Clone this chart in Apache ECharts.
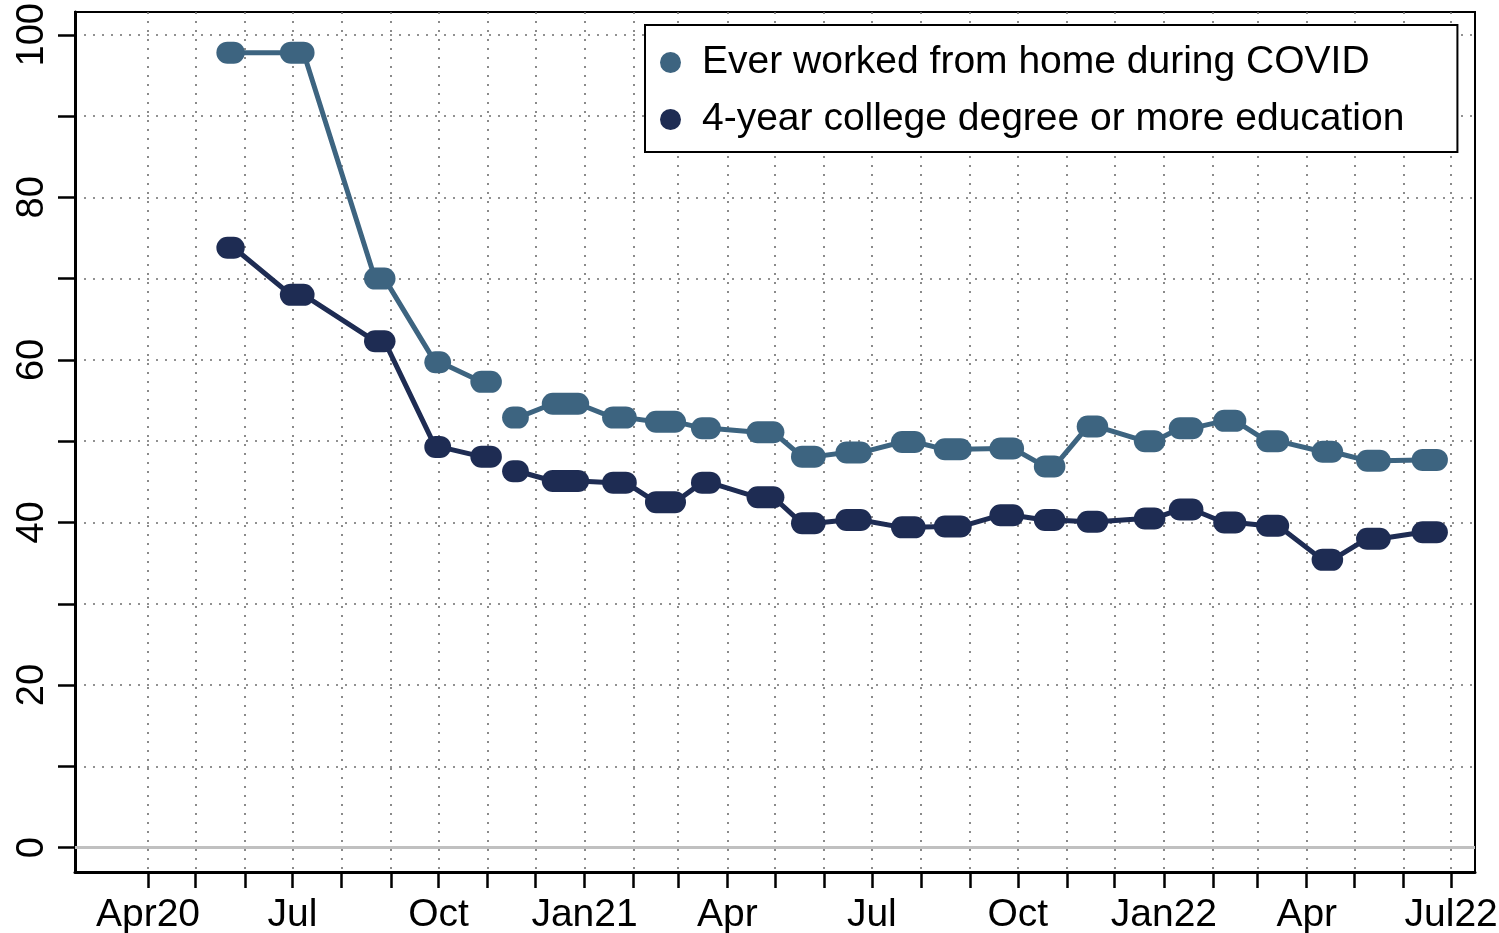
<!DOCTYPE html>
<html>
<head>
<meta charset="utf-8">
<title>Working from home</title>
<script src="https://cdn.jsdelivr.net/npm/echarts@6.0.0/dist/echarts.min.js"></script>
<style>
    html, body { margin: 0; padding: 0; background: #fff; }
    #chart { width: 1499px; height: 933px; }
</style>
</head>
<body>
<div id="chart"></div>
<script>
// survey waves: first and last day in the field
const waveStart = ['2020-05-21', '2020-06-30', '2020-08-22', '2020-09-29', '2020-10-28', '2020-11-17',
    '2020-12-12', '2021-01-19', '2021-02-15', '2021-03-16', '2021-04-20', '2021-05-18', '2021-06-15',
    '2021-07-20', '2021-08-16', '2021-09-20', '2021-10-18', '2021-11-14', '2021-12-20', '2022-01-11',
    '2022-02-08', '2022-03-07', '2022-04-11', '2022-05-09', '2022-06-13'];
const waveEnd = ['2020-05-25', '2020-07-08', '2020-08-28', '2020-10-02', '2020-11-03', '2020-11-20',
    '2020-12-28', '2021-01-27', '2021-02-27', '2021-03-21', '2021-04-30', '2021-05-26', '2021-06-24',
    '2021-07-28', '2021-08-26', '2021-09-28', '2021-10-24', '2021-11-20', '2021-12-26', '2022-01-19',
    '2022-02-15', '2022-03-14', '2022-04-17', '2022-05-17', '2022-06-22'];

const everWfh = [97.8, 97.8, 70.0, 59.7, 57.3, 52.9, 54.6, 52.9, 52.4, 51.6, 51.1, 48.1, 48.6,
    49.9, 49.0, 49.1, 46.9, 51.8, 50.0, 51.6, 52.5, 50.0, 48.7, 47.6, 47.7];
const collegeDegree = [73.8, 68.0, 62.3, 49.3, 48.1, 46.3, 45.1, 44.9, 42.5, 44.9, 43.1, 39.9, 40.3,
    39.4, 39.5, 40.9, 40.3, 40.1, 40.5, 41.6, 40.0, 39.6, 35.4, 38.0, 38.8];

const seriesNames = ['Ever worked from home during COVID', '4-year college degree or more education'];
const seriesColors = ['#3d6480', '#1e2c53'];
const breakAfter = 4; // no line between wave 5 and wave 6

const quarterTicks = ['2020-04-01', '2020-07-01', '2020-10-01', '2021-01-01', '2021-04-01',
    '2021-07-01', '2021-10-01', '2022-01-01', '2022-04-01', '2022-07-01'];
const quarterLabels = ['Apr20', 'Jul', 'Oct', 'Jan21', 'Apr', 'Jul', 'Oct', 'Jan22', 'Apr', 'Jul22'];
const yTicks = [0, 10, 20, 30, 40, 50, 60, 70, 80, 90, 100];
const yLabels = [0, 20, 40, 60, 80, 100];

const day = s => Date.parse(s);
const monthTicks = [];
for (let m = 0; m <= 27; m++) monthTicks.push(Date.UTC(2020, 3 + m, 1));
const quarterTs = quarterTicks.map(day);

const font = '"Liberation Sans", Arial, Helvetica, sans-serif';
const capsule = 22;
const dotted = { color: '#6e6e6e', width: 1.6, type: [2, 7] };

function capsuleData(values) {
    return values.map((v, i) => [day(waveStart[i]), day(waveEnd[i]), v]);
}

function connectorData(values) {
    const out = [];
    values.forEach((v, i) => {
        out.push([day(waveStart[i]), v], [day(waveEnd[i]), v]);
        if (i === breakAfter) out.push([day(waveEnd[i]) + 86400000, '-']);
    });
    return out;
}

function capsuleSeries(name, values, color) {
    return {
        name: name,
        type: 'custom',
        z: 4,
        data: capsuleData(values),
        encode: { x: [0, 1], y: 2 },
        renderItem: (params, api) => {
            const a = api.coord([api.value(0), api.value(2)]);
            const b = api.coord([api.value(1), api.value(2)]);
            return {
                type: 'rect',
                shape: { x: a[0] - capsule / 2, y: a[1] - capsule / 2, width: b[0] - a[0] + capsule, height: capsule, r: capsule / 2 },
                style: { fill: color }
            };
        }
    };
}

function connectorSeries(name, values, color) {
    return {
        name: name,
        type: 'line',
        z: 3,
        data: connectorData(values),
        showSymbol: false,
        symbol: 'none',
        connectNulls: false,
        lineStyle: { color: color, width: 5 }
    };
}

const chart = echarts.init(document.getElementById('chart'), null, { renderer: 'canvas' });
chart.setOption({
    animation: false,
    backgroundColor: '#fff',
    grid: {
        left: 75, right: 24, top: 12, bottom: 61,
        show: true, borderColor: '#000', borderWidth: 2,
        outerBoundsMode: 'none'
    },
    legend: {
        left: 645, top: 25, orient: 'vertical',
        padding: [18, 53, 13, 15],
        itemGap: 18, itemWidth: 21, itemHeight: 21,
        borderColor: '#000', borderWidth: 2, backgroundColor: '#fff',
        selectedMode: false,
        textStyle: { fontSize: 39, color: '#000', fontFamily: font, padding: [0, 0, 0, 16] },
        data: seriesNames.map((n, i) => ({ name: n, icon: 'circle', itemStyle: { color: seriesColors[i] } }))
    },
    xAxis: {
        type: 'value',
        min: day('2020-02-15'),
        max: day('2022-07-16'),
        axisLine: { show: true, onZero: false, lineStyle: { color: '#000', width: 3 } },
        axisTick: { show: true, length: 16, customValues: monthTicks, lineStyle: { color: '#000', width: 2.5 } },
        splitLine: { show: true, lineStyle: dotted },
        axisLabel: {
            customValues: quarterTs,
            margin: 24,
            fontSize: 39, color: '#000', fontFamily: font,
            formatter: v => quarterLabels[quarterTs.indexOf(v)] || ''
        }
    },
    yAxis: {
        type: 'value',
        min: -3,
        max: 102.8,
        axisLine: { show: true, onZero: false, lineStyle: { color: '#000', width: 3 } },
        axisTick: { show: true, length: 17, customValues: yTicks, lineStyle: { color: '#000', width: 2.5 } },
        splitLine: { show: true, lineStyle: dotted },
        axisLabel: {
            customValues: yLabels,
            rotate: 90,
            margin: 23,
            fontSize: 38, color: '#000', fontFamily: font
        }
    },
    series: [
        Object.assign(connectorSeries('line0', everWfh, seriesColors[0]), {
            markLine: {
                silent: true, symbol: 'none', label: { show: false },
                lineStyle: { color: '#c0c0c0', width: 3, type: 'solid' },
                data: [{ yAxis: 0 }]
            }
        }),
        connectorSeries('line1', collegeDegree, seriesColors[1]),
        capsuleSeries(seriesNames[0], everWfh, seriesColors[0]),
        capsuleSeries(seriesNames[1], collegeDegree, seriesColors[1])
    ]
});
</script>
</body>
</html>
